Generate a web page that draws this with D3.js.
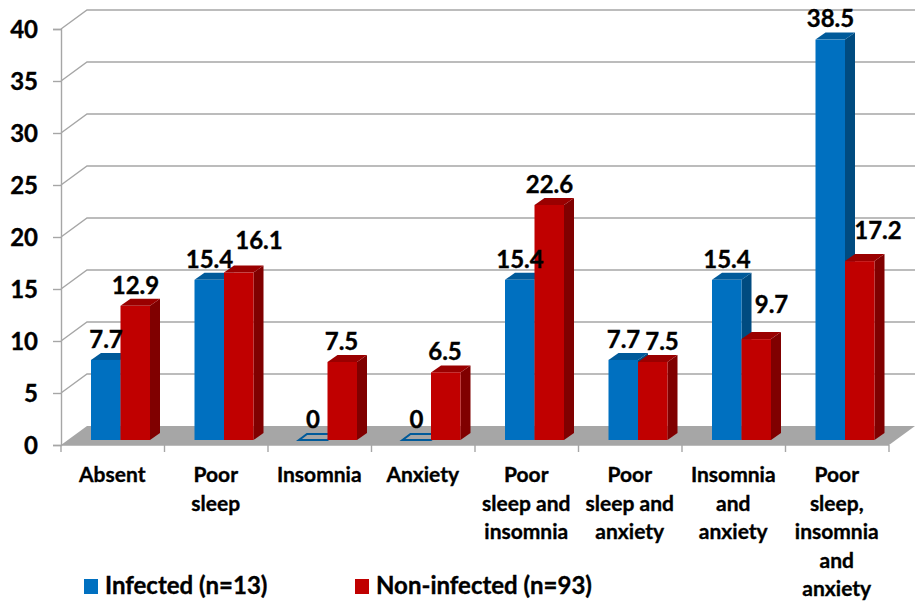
<!DOCTYPE html>
<html>
<head>
<meta charset="utf-8">
<script src="https://cdn.jsdelivr.net/npm/d3@7"></script>
<style>
  html, body { margin: 0; padding: 0; background: #fff; }
  text { font-family: Lato, "Open Sans", sans-serif; font-weight: 700; fill: #000; stroke: #000; stroke-width: 0.35px; }
</style>
</head>
<body>
<svg id="chart" width="917" height="606"></svg>
<script>
const categories = ["Absent", "Poor sleep", "Insomnia", "Anxiety", "Poor sleep and insomnia",
    "Poor sleep and anxiety", "Insomnia and anxiety", "Poor sleep, insomnia and anxiety"];
const categoryLines = [["Absent"], ["Poor", "sleep"], ["Insomnia"], ["Anxiety"], ["Poor", "sleep and", "insomnia"],
    ["Poor", "sleep and", "anxiety"], ["Insomnia", "and", "anxiety"], ["Poor", "sleep,", "insomnia", "and", "anxiety"]];
const infected = [7.7, 15.4, 0, 0, 15.4, 7.7, 15.4, 38.5];
const nonInfected = [12.9, 16.1, 7.5, 6.5, 22.6, 7.5, 9.7, 17.2];
const yTicks = [0, 5, 10, 15, 20, 25, 30, 35, 40];
const seriesNames = ["Infected (n=13)", "Non-infected (n=93)"];

const depthX = 26, depthY = 19;      // wall depth
const barDx = 10, barDy = 7;         // bar depth
const barW = 29.5;

const svg = d3.select("#chart");

const x = d3.scaleBand().domain(categories).range([61, 889]);
const y = d3.scaleLinear().domain([0, 40]).range([445, 29]);

const gridColor = "#a6a6a6";

// floor
svg.append("polygon")
    .attr("points", [[y.range()[0], 61, 0], [y.range()[0], 889, 0], [y.range()[0], 889, 1], [y.range()[0], 61, 1]]
        .map(p => [p[1] + p[2] * depthX, p[0] - p[2] * depthY].join(",")).join(" "))
    .attr("fill", "#a6a6a6");

// grid lines, bent at the left wall
svg.selectAll(".grid")
    .data(yTicks.filter(d => d > 0))
    .enter()
    .append("path")
    .attr("class", "grid")
    .attr("fill", "none")
    .attr("stroke", gridColor)
    .attr("stroke-width", 1.4)
    .attr("d", d => `M61,${y(d)}L${61 + depthX},${y(d) - depthY}L${889 + depthX},${y(d) - depthY}`);

// y axis
const yAxis = svg.append("g")
    .attr("transform", "translate(61,0)")
    .call(d3.axisLeft(y).tickValues(yTicks).tickSize(8).tickPadding(15));
yAxis.selectAll(".domain").attr("stroke", gridColor).attr("stroke-width", 1.4);
yAxis.selectAll(".tick line").attr("stroke", gridColor).attr("stroke-width", 1.4);
yAxis.selectAll("text").style("font-size", "24px").attr("dy", "0.34em");

// x axis line and ticks on the band edges
const xAxis = svg.append("g");
xAxis.append("line")
    .attr("x1", 61).attr("x2", 889)
    .attr("y1", y(0)).attr("y2", y(0))
    .attr("stroke", gridColor).attr("stroke-width", 1.4);
xAxis.selectAll(".xtick")
    .data(categories.concat(["end"]))
    .enter()
    .append("line")
    .attr("class", "xtick")
    .attr("x1", (d, i) => 61 + i * x.step())
    .attr("x2", (d, i) => 61 + i * x.step())
    .attr("y1", y(0)).attr("y2", y(0) + 7)
    .attr("stroke", gridColor).attr("stroke-width", 1.4);

// category labels
categoryLines.forEach((lines, i) => {
    const t = svg.append("text")
        .attr("text-anchor", "middle")
        .style("font-size", "21px");
    lines.forEach((line, j) => {
        t.append("tspan")
            .attr("x", x(categories[i]) + x.bandwidth() / 2 - 0.5)
            .attr("y", 482 + j * 28.5)
            .text(line);
    });
});

const bars = svg.append("g");
const barBase = v => y(v) - 5;

function drawBar(left, value, front, top, side) {
    const t = barBase(value), b = barBase(0), r = left + barW;
    if (value === 0) {
        bars.append("polygon")
            .attr("points", `${left + 1},${b} ${r},${b} ${r + barDx - 2},${b - barDy + 1} ${left + barDx - 1},${b - barDy + 1}`)
            .attr("fill", "none")
            .attr("stroke", top)
            .attr("stroke-width", 2);
        return;
    }
    bars.append("polygon")
        .attr("points", `${r},${t} ${r + barDx},${t - barDy} ${r + barDx},${b - barDy} ${r},${b}`)
        .attr("fill", side);
    bars.append("polygon")
        .attr("points", `${left},${t} ${left + barDx},${t - barDy} ${r + barDx},${t - barDy} ${r},${t}`)
        .attr("fill", top);
    bars.append("rect")
        .attr("x", left).attr("y", t)
        .attr("width", barW).attr("height", b - t)
        .attr("fill", front);
}

const blue = ["#0070c0", "#005a9a", "#004b80"];
const red = ["#c00000", "#9a0000", "#800000"];

categories.forEach((c, i) => {
    const left = x(c) + 30;
    drawBar(left, infected[i], blue[0], blue[1], blue[2]);
    drawBar(left + barW, nonInfected[i], red[0], red[1], red[2]);
});

// data labels, nudged where Excel moved them off the bars
const infectedNudge = [[0, 0], [0, 0], [0, 0], [0, 0], [0, 0], [0, 0], [0, 0], [0, -1]];
const nonInfectedNudge = [[-2, 0], [18, -12], [-3, 0], [-3, 0], [-2, 0], [7, 0], [13, -14], [16, -10]];
const labels = svg.append("g").attr("text-anchor", "middle").style("font-size", "24px");

infected.forEach((v, i) => {
    labels.append("text")
        .attr("x", x(categories[i]) + 45 + infectedNudge[i][0])
        .attr("y", barBase(v) - 12 + infectedNudge[i][1])
        .text(v);
});
nonInfected.forEach((v, i) => {
    labels.append("text")
        .attr("x", x(categories[i]) + 45 + barW + 2 + nonInfectedNudge[i][0])
        .attr("y", barBase(v) - 12 + nonInfectedNudge[i][1])
        .text(v);
});

// legend
const legendX = [84, 355];
seriesNames.forEach((name, i) => {
    svg.append("rect")
        .attr("x", legendX[i]).attr("y", 579)
        .attr("width", 14).attr("height", 15)
        .attr("fill", i === 0 ? blue[0] : red[0]);
    svg.append("text")
        .attr("x", legendX[i] + 21).attr("y", 594)
        .style("font-size", "24px")
        .text(name);
});
</script>
</body>
</html>
